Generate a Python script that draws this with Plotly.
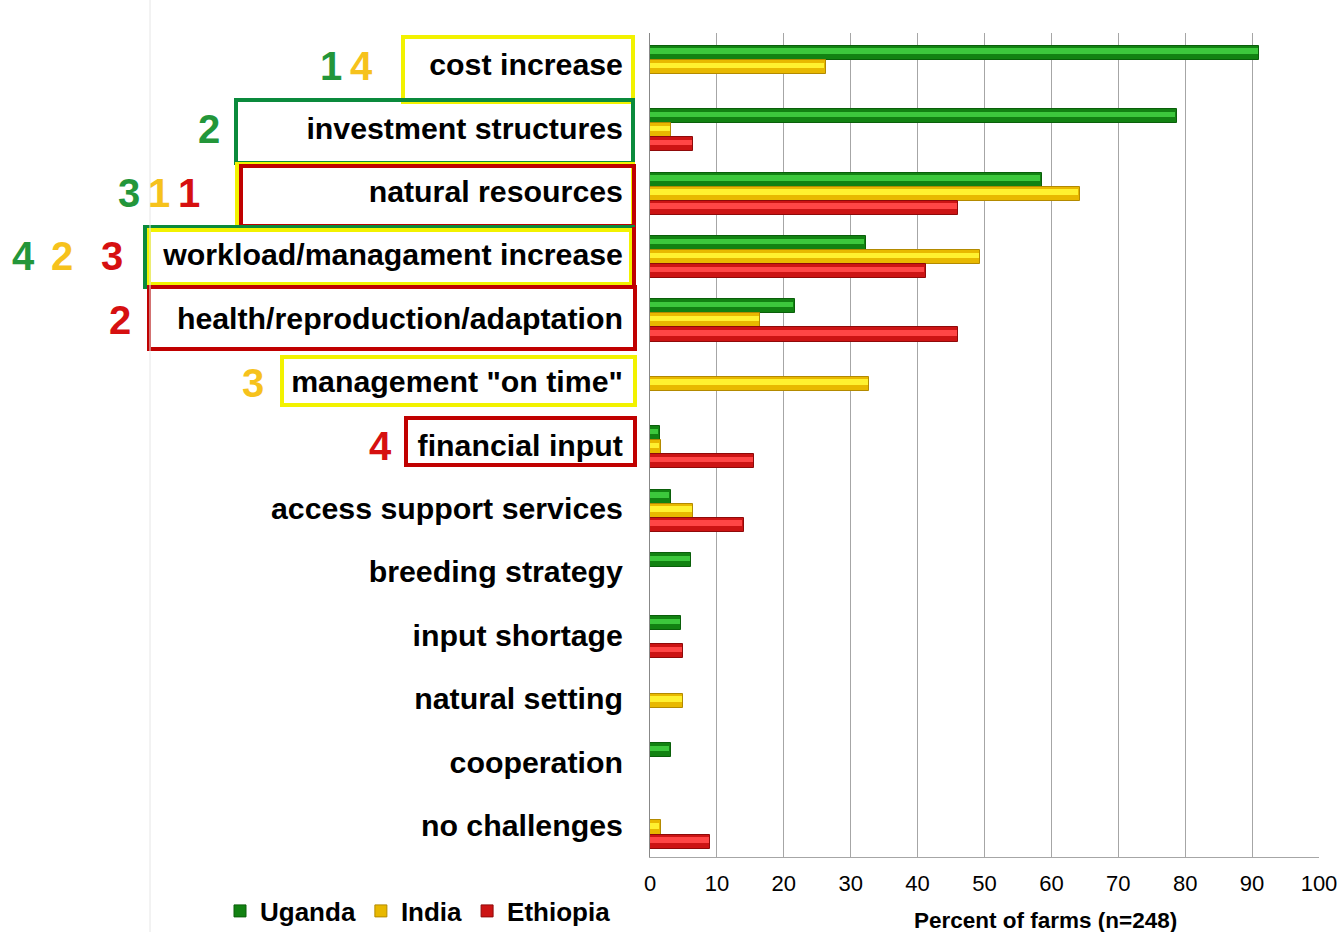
import plotly.graph_objects as go

# Challenges named by farmers, share of farms per country (%)
categories = [
    "cost increase",
    "investment structures",
    "natural resources",
    "workload/managament increase",
    "health/reproduction/adaptation",
    'management "on time"',
    "financial input",
    "access support services",
    "breeding strategy",
    "input shortage",
    "natural setting",
    "cooperation",
    "no challenges",
]
uganda = [91.1, 78.7, 58.6, 32.3, 21.6, None, 1.5, 3.1, 6.2, 4.7, None, 3.1, None]
india = [26.3, 3.2, 64.2, 49.4, 16.5, 32.8, 1.6, 6.5, None, None, 5.0, None, 1.6]
ethiopia = [None, 6.5, 46.1, 41.2, 46.1, None, 15.6, 14.0, None, 5.0, None, None, 9.0]
x_ticks = [0, 10, 20, 30, 40, 50, 60, 70, 80, 90, 100]

# Top-4 ranking per country: (category, rank, country)
ranks = [
    ("cost increase", 1, "Uganda"),
    ("cost increase", 4, "India"),
    ("investment structures", 2, "Uganda"),
    ("natural resources", 3, "Uganda"),
    ("natural resources", 1, "India"),
    ("natural resources", 1, "Ethiopia"),
    ("workload/managament increase", 4, "Uganda"),
    ("workload/managament increase", 2, "India"),
    ("workload/managament increase", 3, "Ethiopia"),
    ("health/reproduction/adaptation", 2, "Ethiopia"),
    ('management "on time"', 3, "India"),
    ("financial input", 4, "Ethiopia"),
]

W, H = 1339, 932
L, R, T, B = 650, 1319, 33, 857


def px(x):
    return (x - L) / (R - L)


def py(y):
    return (B - y) / (B - T)


series = [
    ("Uganda", uganda, -0.187, "#128212", "#3cc83c", "#0a5f0a"),
    ("India", india, 0.035, "#e8b800", "#fff130", "#b38a00"),
    ("Ethiopia", ethiopia, 0.257, "#cc1414", "#ff4646", "#8f0a0a"),
]
bar_w = 0.222
idx = list(range(len(categories)))

fig = go.Figure()
for name, vals, off, base, light, edge in series:
    ys = [i + off for i in idx]
    fig.add_trace(go.Bar(
        name=name, orientation="h", x=vals, y=ys, width=bar_w,
        marker=dict(color=base, line=dict(color=edge, width=1)),
        hovertemplate=name + ": %{x}%<extra></extra>",
    ))
    # glossy highlight band on the upper half of each bar
    fig.add_trace(go.Bar(
        orientation="h", x=[v - 0.25 if v else None for v in vals],
        y=[y - bar_w * 0.12 for y in ys], width=bar_w * 0.38,
        marker=dict(color=light, line=dict(width=0)),
        showlegend=False, hoverinfo="skip",
    ))

colors_rank = {"Uganda": "#23963a", "India": "#f6c21c", "Ethiopia": "#d61010"}

# label frames (pixel extents)
frames = [
    (403, 37, 633, 102, "#f2f200"),
    (236, 100, 633, 163, "#0a8a3c"),
    (237, 164, 633, 227, "#f2f200"),
    (241, 166, 634, 226, "#c00000"),
    (145, 227, 633, 287, "#0a8a3c"),
    (149, 230, 631, 284, "#f2f200"),
    (149, 287, 635, 349, "#c00000"),
    (282, 357, 635, 405, "#f2f200"),
    (406, 418, 635, 465, "#c00000"),
]
shapes = []
for x0, y0, x1, y1, c in frames:
    shapes.append(dict(type="rect", xref="paper", yref="paper",
                       x0=px(x0), x1=px(x1), y0=py(y1), y1=py(y0),
                       line=dict(color=c, width=4), layer="above"))
# red edge on the right of the workload frame
shapes.append(dict(type="line", xref="paper", yref="paper",
                   x0=px(634), x1=px(634), y0=py(287), y1=py(227),
                   line=dict(color="#c00000", width=4)))
# faint page rule on the left
shapes.append(dict(type="line", xref="paper", yref="paper",
                   x0=px(150), x1=px(150), y0=py(H), y1=py(0),
                   line=dict(color="#e6e6e6", width=1)))

# horizontal positions of rank digits beside each label
rank_x = {
    ("cost increase", "Uganda"): 331, ("cost increase", "India"): 361,
    ("investment structures", "Uganda"): 209,
    ("natural resources", "Uganda"): 129, ("natural resources", "India"): 159,
    ("natural resources", "Ethiopia"): 189,
    ("workload/managament increase", "Uganda"): 23,
    ("workload/managament increase", "India"): 62,
    ("workload/managament increase", "Ethiopia"): 112,
    ("health/reproduction/adaptation", "Ethiopia"): 120,
    ('management "on time"', "India"): 253,
    ("financial input", "Ethiopia"): 380,
}
annotations = []
for cat, rk, country in ranks:
    annotations.append(dict(
        x=px(rank_x[(cat, country)]), xref="paper",
        y=categories.index(cat) + 0.02, yref="y",
        text=str(rk), showarrow=False, xanchor="center", yanchor="middle",
        font=dict(family="Liberation Sans", size=40, color=colors_rank[country],
                  weight="bold"),
    ))
annotations.append(dict(
    x=px(1045), xref="paper", y=py(920), yref="paper",
    text="Percent of farms (n=248)", showarrow=False,
    xanchor="center", yanchor="middle",
    font=dict(family="Liberation Sans", size=22.5, color="#000", weight="bold"),
))

fig.update_layout(
    width=W, height=H,
    margin=dict(l=L, r=W - R, t=T, b=H - B, autoexpand=False),
    paper_bgcolor="white", plot_bgcolor="white",
    barmode="overlay", bargap=0,
    shapes=shapes, annotations=annotations,
    legend=dict(orientation="h", x=px(220), y=py(911), xanchor="left",
                yanchor="middle", traceorder="normal",
                font=dict(family="Liberation Sans", size=26, color="#000",
                          weight="bold"),
                itemwidth=30),
    xaxis=dict(range=[0, 100], tickvals=x_ticks, showgrid=True,
               gridcolor="#a6a6a6", gridwidth=1, zeroline=False,
               showline=True, linecolor="#a6a6a6", linewidth=1,
               ticks="", ticklabelstandoff=7, automargin=False,
               tickfont=dict(family="Liberation Sans Narrow, Liberation Sans",
                             size=22, color="#000"),
               fixedrange=True),
    yaxis=dict(range=[12.5, -0.5], tickvals=idx, ticktext=categories,
               showgrid=False, zeroline=False, showline=True,
               linecolor="#888888", linewidth=1, ticks="",
               ticklabelstandoff=20, automargin=False,
               tickfont=dict(family="Liberation Sans", size=30.3, color="#000",
                             weight="bold"),
               fixedrange=True),
    showlegend=True,
)

fig.write_html("out.html")
